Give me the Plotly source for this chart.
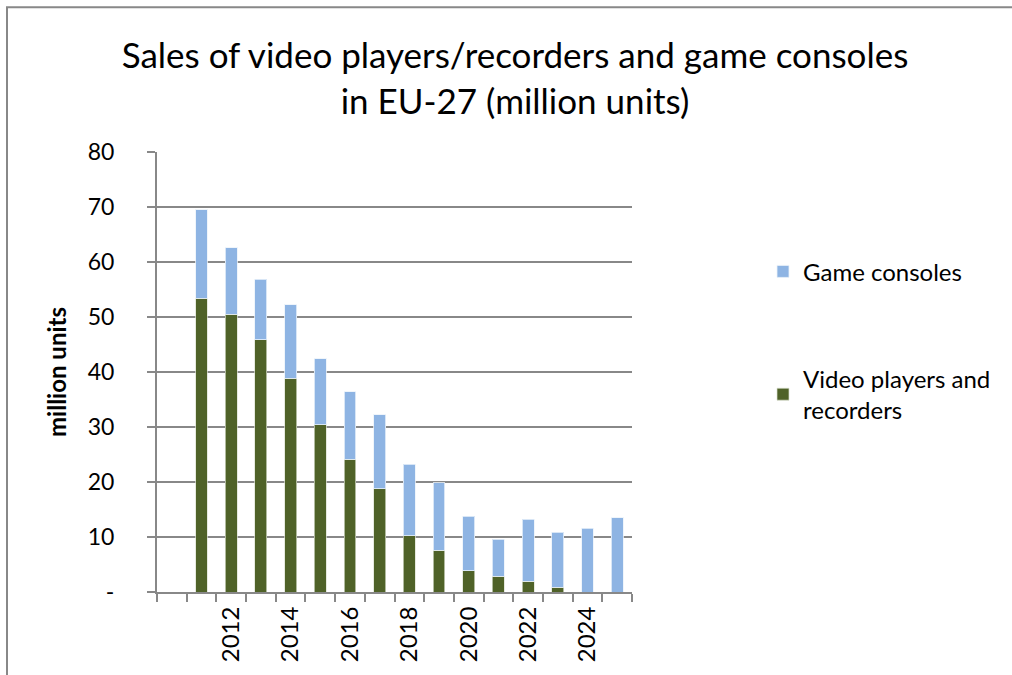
import plotly.graph_objects as go

years = [2011, 2012, 2013, 2014, 2015, 2016, 2017, 2018, 2019, 2020, 2021, 2022, 2023, 2024, 2025]
video_players = [53.4, 50.5, 45.9, 38.9, 30.4, 24.1, 18.8, 10.2, 7.6, 3.9, 2.85, 1.95, 0.85, 0, 0]
game_consoles = [16.1, 12.1, 11.0, 13.3, 12.0, 12.3, 13.4, 13.0, 12.3, 9.9, 6.75, 11.25, 10.05, 11.6, 13.5]
x_tick_labels = [2012, 2014, 2016, 2018, 2020, 2022, 2024]
y_tick_vals = [0, 10, 20, 30, 40, 50, 60, 70, 80]
y_tick_text = ["-", "10", "20", "30", "40", "50", "60", "70", "80"]

GREEN = "#4F6228"
BLUE = "#8EB4E3"
GRID = "#888888"
FONT = "Lato"

fig = go.Figure()
fig.add_trace(go.Bar(
    x=years, y=video_players, name="Video players and<br>recorders",
    marker=dict(color=GREEN, line=dict(color="rgba(220,225,210,0.7)", width=1)),
    width=0.4, legendgroup="video", legendrank=2,
))
fig.add_trace(go.Bar(
    x=years, y=game_consoles, name="Game consoles",
    marker=dict(color=BLUE, line=dict(color="rgba(235,242,250,0.8)", width=1)),
    width=0.4, legendgroup="consoles", legendrank=1,
))

fig.update_layout(
    width=1012, height=675,
    barmode="stack",
    paper_bgcolor="white", plot_bgcolor="white",
    margin=dict(l=157, r=380, t=152, b=83, pad=0, autoexpand=False),
    font=dict(family=FONT, color="#000000"),
    title=dict(
        text="Sales of video players/recorders and game consoles<br>in EU-27 (million units)",
        x=515 / 1012, xanchor="center", xref="container",
        y=1 - 68 / 675, yanchor="middle", yref="container",
        font=dict(family=FONT, size=35, color="#000000"),
    ),
    xaxis=dict(
        range=[2009.5, 2025.5], automargin=False,
        tickmode="array", tickvals=x_tick_labels, ticktext=[str(v) for v in x_tick_labels],
        tickangle=-90, ticks="", showgrid=False, zeroline=False,
        showline=True, linecolor=GRID, linewidth=2,
        tickfont=dict(family=FONT, size=24, color="#000000"),
        ticklabelstandoff=3,
        minor=dict(tick0=2009.5, dtick=1, ticks="outside", ticklen=8, tickwidth=2,
                   tickcolor=GRID, showgrid=False),
    ),
    yaxis=dict(
        range=[0, 80], automargin=False,
        tickmode="array", tickvals=y_tick_vals, ticktext=y_tick_text,
        ticks="outside", ticklen=8, tickwidth=2, tickcolor=GRID,
        showgrid=True, gridcolor=GRID, gridwidth=2,
        showline=True, linecolor=GRID, linewidth=2, zeroline=False,
        tickfont=dict(family=FONT, size=23, color="#000000"),
        ticklabelstandoff=28,
        title=dict(text="<b>million units</b>", font=dict(family=FONT, size=24, color="#000000"),
                   standoff=14),
    ),
    legend=dict(
        x=(763 - 157) / 475, xanchor="left",
        y=(591.7 - 249) / 440, yanchor="top",
        traceorder="grouped", tracegroupgap=73,
        font=dict(family=FONT, size=24, color="#000000"),
        bgcolor="rgba(0,0,0,0)",
    ),
    shapes=[dict(
        type="rect", xref="paper", yref="paper",
        x0=(7 - 157) / 475, x1=2.0, y0=-1.0, y1=(591.7 - 7) / 440,
        line=dict(color=GRID, width=2), fillcolor="rgba(0,0,0,0)", layer="below",
    )],
)

fig.write_html("out.html")
